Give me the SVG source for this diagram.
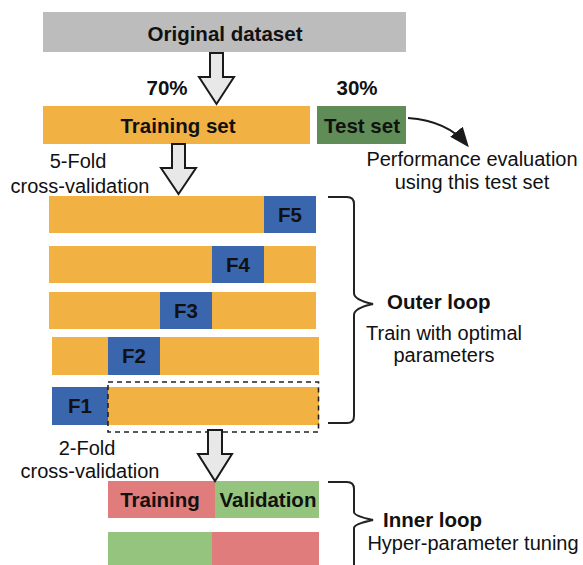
<svg xmlns="http://www.w3.org/2000/svg" width="583" height="565" viewBox="0 0 583 565">
<style>
  text { font-family: "Liberation Sans", Arial, sans-serif; font-size: 20px; fill: #111; }
  .b { font-weight: bold; font-size: 20.5px; }
  .m { text-anchor: middle; }
  .gray { fill: #bcbcbc; }
  .or { fill: #f2b143; }
  .tg { fill: #5f8c57; }
  .bl { fill: #3a66ae; }
  .rd { fill: #e07c7c; }
  .gn { fill: #94c47d; }
  .blk { fill: #e8e8e8; stroke: #1a1a1a; stroke-width: 2; stroke-linejoin: miter; }
  .brace { fill: none; stroke: #222; stroke-width: 2; }
</style>
<defs>
  <marker id="ah" viewBox="0 0 20 16" refX="17" refY="8" markerWidth="20" markerHeight="16" orient="auto" markerUnits="userSpaceOnUse">
    <path d="M0,0 L20,8 L0,16 z" fill="#1a1a1a"/>
  </marker>
</defs>

<g id="original">
  <rect class="gray" x="43" y="12" width="363" height="40"/>
  <text class="b m" x="225" y="41">Original dataset</text>
</g>
<g id="pct70"><text class="b m" x="167" y="95">70%</text></g>
<g id="pct30"><text class="b m" x="357" y="95">30%</text></g>
<g id="training-set">
  <rect class="or" x="43" y="106" width="267" height="38"/>
  <text class="b m" x="178" y="133">Training set</text>
</g>
<g id="test-set">
  <rect class="tg" x="317" y="106" width="89" height="38"/>
  <text class="b m" x="362" y="133">Test set</text>
</g>
<g id="perf-label">
  <text class="m" x="472" y="166">Performance evaluation</text>
  <text class="m" x="472" y="189">using this test set</text>
</g>
<g id="fold5-label">
  <text class="m" x="78" y="168">5-Fold</text>
  <text class="m" x="80" y="193">cross-validation</text>
</g>

<g id="fold-row-5">
  <rect class="or" x="49" y="196" width="267" height="37"/>
  <rect class="bl" x="264" y="196" width="52" height="37"/>
  <text class="b m" x="290" y="222">F5</text>
</g>
<g id="fold-row-4">
  <rect class="or" x="49" y="246" width="267" height="37"/>
  <rect class="bl" x="212" y="246" width="52" height="37"/>
  <text class="b m" x="238" y="272">F4</text>
</g>
<g id="fold-row-3">
  <rect class="or" x="49" y="292" width="267" height="37"/>
  <rect class="bl" x="160" y="292" width="52" height="37"/>
  <text class="b m" x="186" y="318">F3</text>
</g>
<g id="fold-row-2">
  <rect class="or" x="52" y="337" width="267" height="38"/>
  <rect class="bl" x="108" y="337" width="52" height="38"/>
  <text class="b m" x="134" y="363">F2</text>
</g>
<g id="fold-row-1">
  <rect class="or" x="52" y="387" width="267" height="38"/>
  <rect class="bl" x="52" y="387" width="56" height="38"/>
  <text class="b m" x="80" y="413">F1</text>
  <rect x="108" y="382" width="210.5" height="50" fill="none" stroke="#222" stroke-width="1.6" stroke-dasharray="5,4"/>
</g>

<g id="outer-loop">
  <path class="brace" d="M328,197 H347 Q354,197 354,204 V293 Q354,300 373,304 Q354,308 354,315 V416 Q354,423 347,423 H328"/>
  <text class="b" x="387" y="309">Outer loop</text>
  <text class="m" x="444" y="340">Train with optimal</text>
  <text class="m" x="444" y="362">parameters</text>
</g>

<g id="fold2-label">
  <text class="m" x="87" y="455">2-Fold</text>
  <text class="m" x="90" y="478">cross-validation</text>
</g>

<g id="inner-row-1">
  <rect class="rd" x="108" y="481" width="107" height="37"/>
  <rect class="gn" x="215" y="481" width="104" height="37"/>
  <text class="b m" x="160" y="507">Training</text>
  <text class="b m" x="268" y="507">Validation</text>
</g>
<g id="inner-row-2">
  <rect class="gn" x="108" y="532" width="104" height="40"/>
  <rect class="rd" x="212" y="532" width="107" height="40"/>
</g>

<g id="inner-loop">
  <path class="brace" d="M328,482 H347 Q354,482 354,489 V512 Q354,516 373,520 Q354,524 354,528 V570"/>
  <text class="b" x="383" y="527">Inner loop</text>
  <text class="m" x="473" y="550">Hyper-parameter tuning</text>
</g>

<g id="connectors">
  <path class="blk" d="M210,53 H223 V77 H234 L216.5,104 L199,77 H210 Z"/>
  <path class="blk" d="M172,144 H185 V168 H196 L178.5,194 L161,168 H172 Z"/>
  <path class="blk" d="M208,430 H222 V454 H232 L215,481 L198,454 H208 Z"/>
  <path d="M408,118 Q448,121 467,145" fill="none" stroke="#1a1a1a" stroke-width="2" marker-end="url(#ah)"/>
</g>
</svg>
